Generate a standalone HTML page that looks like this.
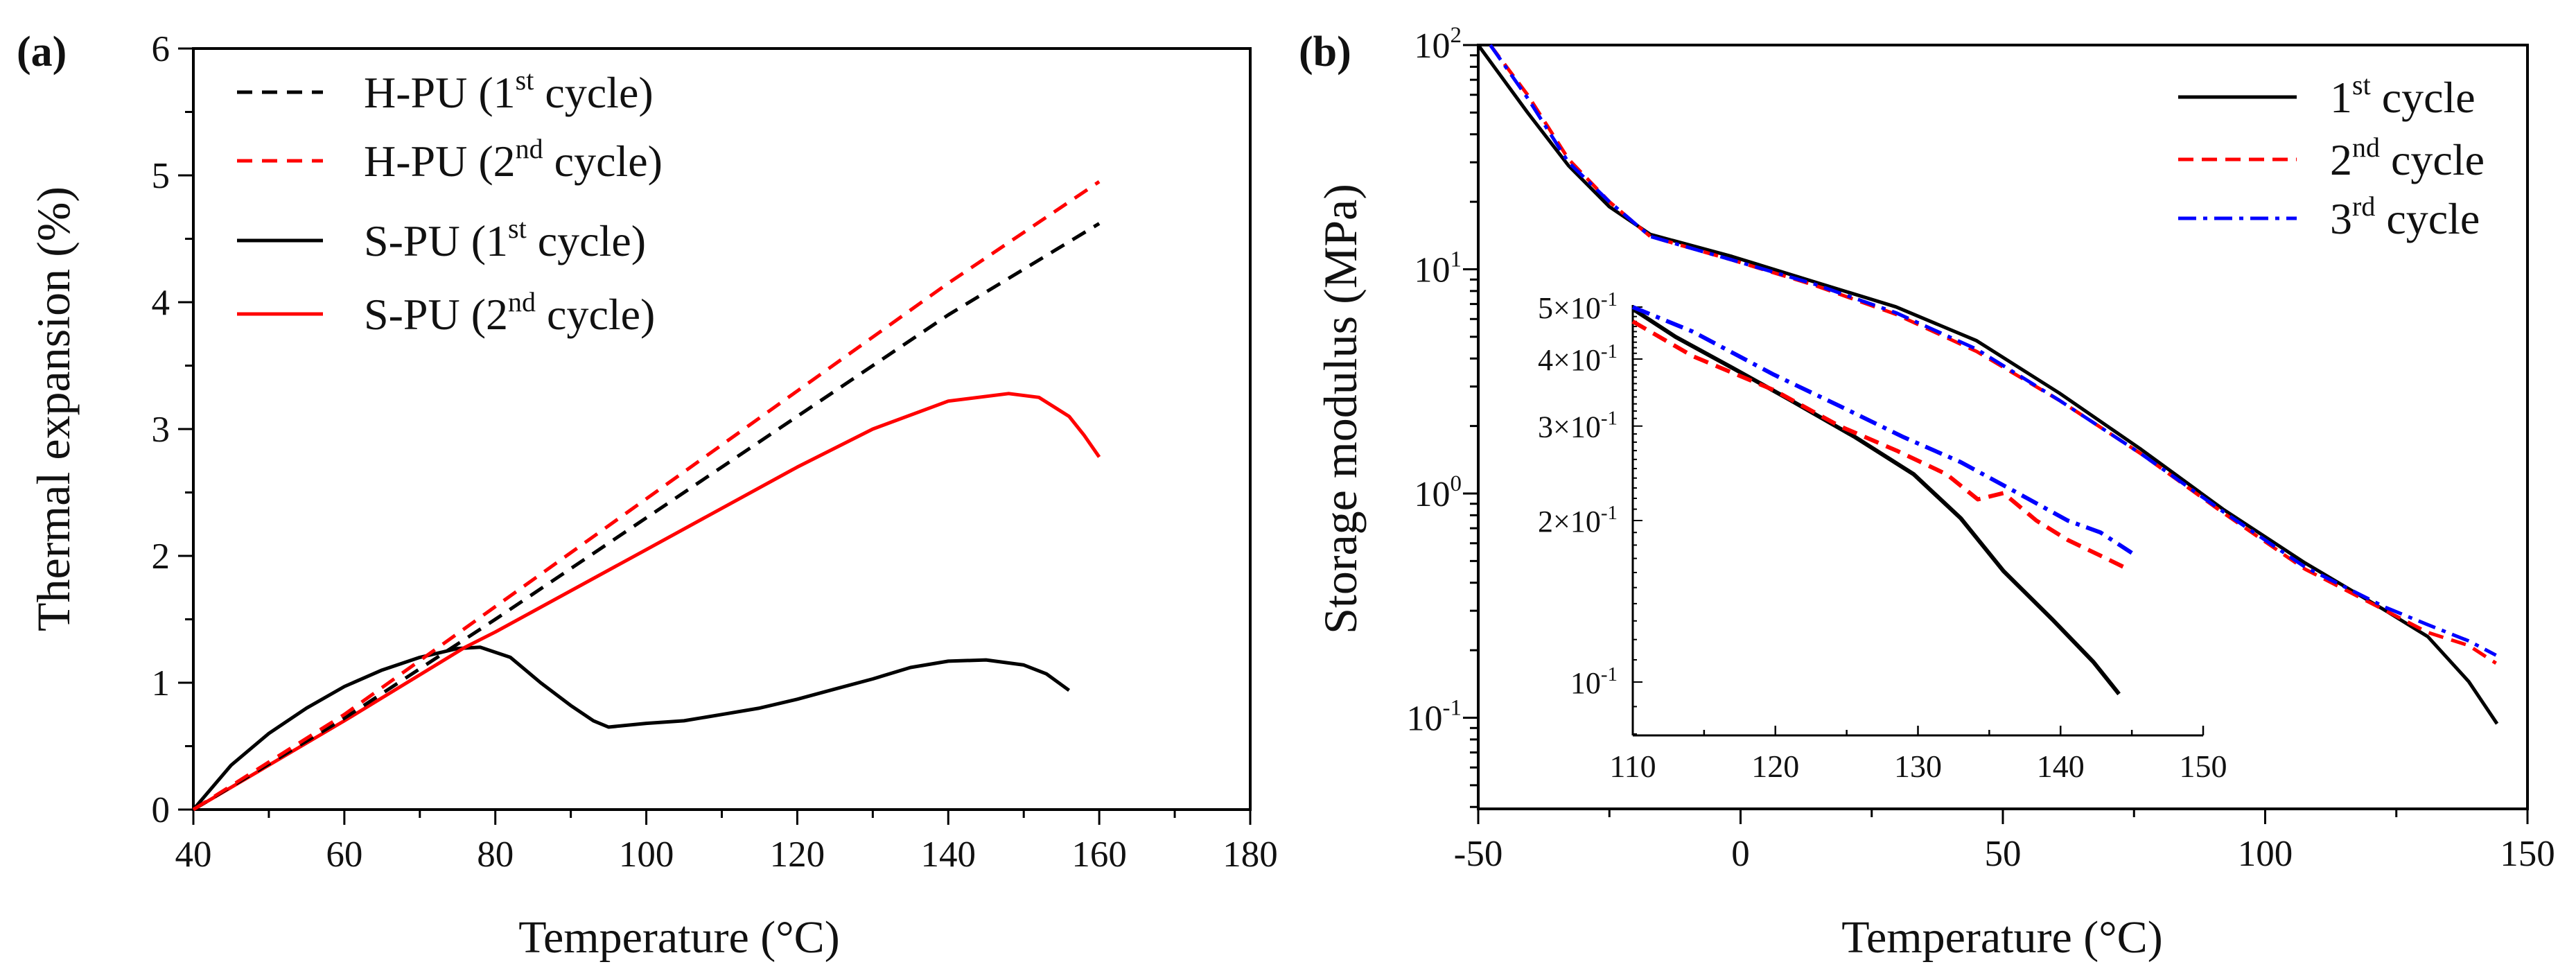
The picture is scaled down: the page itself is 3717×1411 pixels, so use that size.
<!DOCTYPE html>
<html><head><meta charset="utf-8"><style>
html,body{margin:0;padding:0;background:#fff}
svg{display:block}
text{font-family:"Liberation Serif",serif;fill:#111}
</style></head><body>
<svg id="fig" width="3717" height="1411" viewBox="0 0 3717 1411" xmlns="http://www.w3.org/2000/svg">
<g id="pa"></g>
<g id="pb"></g>
</svg>
<script>
// ---------- Panel (a) data ----------
const aXTicks = [40,60,80,100,120,140,160,180];
const aYTicks = [0,1,2,3,4,5,6];
const hpu1T = [40,60,80,100,120,140,160];
const hpu1V = [0,0.72,1.5,2.3,3.1,3.9,4.62];
const hpu2T = [40,60,80,100,120,140,160];
const hpu2V = [0,0.75,1.6,2.45,3.3,4.15,4.95];
const spu1T = [40,45,50,55,60,65,70,75,78,82,86,90,93,95,100,105,110,115,120,125,130,135,140,145,150,153,156];
const spu1V = [0,0.35,0.6,0.8,0.97,1.1,1.2,1.27,1.28,1.2,1.0,0.82,0.7,0.65,0.68,0.7,0.75,0.8,0.87,0.95,1.03,1.12,1.17,1.18,1.14,1.07,0.94];
const spu2T = [40,60,76,80,100,120,130,140,148,152,156,158,160];
const spu2V = [0,0.7,1.28,1.4,2.05,2.7,3.0,3.22,3.28,3.25,3.1,2.95,2.78];
// ---------- Panel (b) data ----------
const bXTicks = [-50,0,50,100,150];
const bYExp = [-1,0,1,2];
const c1T = [-50,-40.6,-32.8,-25,-17.2,-1.6,14,29.6,45,60.8,76.4,92,107.6,123,131,138.8,144.2];
const c1V = [100,50,29,19,14.3,11.4,8.8,6.8,4.8,2.8,1.57,0.85,0.49,0.30,0.23,0.145,0.094];
const c2T = [-47.7,-40.6,-32.8,-25,-17.2,-1.6,14,29.6,45,60.8,76.4,92,107.6,123,131,138.8,144];
const c2V = [100,60,31,20,14,11,8.5,6.3,4.3,2.6,1.5,0.82,0.46,0.30,0.24,0.21,0.175];
const c3T = [-47.7,-40.6,-32.8,-25,-17.2,-1.6,14,29.6,45,60.8,76.4,92,107.6,123,131,138.8,144];
const c3V = [100,58,30,20,14,11,8.6,6.4,4.4,2.6,1.5,0.83,0.47,0.31,0.26,0.22,0.19];
// inset
const iXTicks = [110,120,130,140,150];
const iYTicks = [0.1,0.2,0.3,0.4,0.5];
const iYLabels = ["10","2×10","3×10","4×10","5×10"];
const i1T = [110,113,117,121,125.6,129.7,133,136,139.4,142.3,144.1];
const i1V = [0.496,0.44,0.385,0.336,0.286,0.244,0.202,0.161,0.131,0.109,0.095];
const i2T = [110,114.2,119.9,124.5,128.5,132,134.2,136,138.3,140.5,142.8,144.6];
const i2V = [0.47,0.405,0.35,0.30,0.27,0.244,0.219,0.225,0.2,0.184,0.172,0.163];
const i3T = [110,114.2,119.9,124.5,129,133,137,140.5,142.8,145];
const i3V = [0.5,0.45,0.374,0.327,0.286,0.257,0.225,0.2,0.19,0.174];

const NS="http://www.w3.org/2000/svg";
function mk(parent,tag,attrs,txt){const e=document.createElementNS(NS,tag);for(const k in attrs)e.setAttribute(k,attrs[k]);if(txt!==undefined)e.textContent=txt;parent.appendChild(e);return e;}

// ---- Panel a ----
const pa=document.getElementById('pa');
const aL=279,aR=1804,aT=70,aB=1168;
const ax=v=>aL+(v-40)/(180-40)*(aR-aL);
const ay=v=>aB-(v-0)/6*(aB-aT);
let f=mk(pa,'rect',{x:aL,y:aT,width:aR-aL,height:aB-aT,fill:'none',stroke:'#000','stroke-width':4});


for(let v=40;v<=180;v+=10){const major=v%20===0;const t=mk(pa,'line',{x1:ax(v),x2:ax(v),y1:aB,y2:aB+(major?22:12),stroke:'#000','stroke-width':3});

}
aXTicks.forEach(v=>{const t=mk(pa,'text',{x:ax(v),y:aB+82,'font-size':53,'text-anchor':'middle'},String(v));

});
for(let v=0;v<=6;v+=0.5){const major=v%1===0;const t=mk(pa,'line',{x1:aL-(major?22:12),x2:aL,y1:ay(v),y2:ay(v),stroke:'#000','stroke-width':3});

}
aYTicks.forEach(v=>{const t=mk(pa,'text',{x:aL-34,y:ay(v)+18,'font-size':53,'text-anchor':'end'},String(v));

});
function lineA(T,V,color,dash,name){const d=T.map((t,i)=>(i?'L':'M')+ax(t).toFixed(1)+','+ay(V[i]).toFixed(1)).join('');
const p=mk(pa,'path',{d:d,fill:'none',stroke:color,'stroke-width':5,'stroke-dasharray':dash||'none','stroke-linejoin':'round'});

}
lineA(spu1T,spu1V,'#000','', 'series-spu-1st');
lineA(spu2T,spu2V,'#f00','', 'series-spu-2nd');
lineA(hpu1T,hpu1V,'#000','22 14','series-hpu-1st');
lineA(hpu2T,hpu2V,'#f00','22 14','series-hpu-2nd');
const legA=[["H-PU (1","st"," cycle)",'#000','22 14',133],["H-PU (2","nd"," cycle)",'#f00','22 14',232],["S-PU (1","st"," cycle)",'#000','',347],["S-PU (2","nd"," cycle)",'#f00','',453]];
legA.forEach(l=>{const g=mk(pa,'g',{});


mk(g,'line',{x1:342,x2:466,y1:l[5],y2:l[5],stroke:l[3],'stroke-width':5,'stroke-dasharray':l[4]||'none'});
const t=mk(g,'text',{x:525,y:l[5]+22,'font-size':64});
mk(t,'tspan',{},l[0]);mk(t,'tspan',{'font-size':40,dy:-26},l[1]);mk(t,'tspan',{dy:26},l[2]);});
let tt=mk(pa,'text',{x:24,y:95,'font-size':62,'font-weight':'bold'},'(a)');


tt=mk(pa,'text',{x:980,y:1374,'font-size':66,'text-anchor':'middle'},'Temperature (°C)');


tt=mk(pa,'text',{x:0,y:0,'font-size':68,'text-anchor':'middle',transform:'translate(100,590) rotate(-90)'},'Thermal expansion (%)');



// ---- Panel b ----
const pb=document.getElementById('pb');
const bL=2133,bR=3647,bT=65,bB=1167;
const decade=323.5, y100=65;
const bx=v=>bL+(v+50)/200*(bR-bL);
const by=v=>y100+(2-Math.log10(v))*decade;
f=mk(pb,'rect',{x:bL,y:bT,width:bR-bL,height:bB-bT,fill:'none',stroke:'#000','stroke-width':4});


for(let v=-50;v<=150;v+=25){const major=v%50===0;const t=mk(pb,'line',{x1:bx(v),x2:bx(v),y1:bB,y2:bB+(major?22:12),stroke:'#000','stroke-width':3});

}
bXTicks.forEach(v=>{const t=mk(pb,'text',{x:bx(v),y:bB+82,'font-size':53,'text-anchor':'middle'},String(v));

});
for(let e=-2;e<=1;e++){for(let m=1;m<10;m++){const v=m*Math.pow(10,e);const y=by(v);if(y>bB+1||y<bT-1)continue;
const t=mk(pb,'line',{x1:bL-(m===1?22:12),x2:bL,y1:y,y2:y,stroke:'#000','stroke-width':3});

}}
mk(pb,'line',{x1:bL-22,x2:bL,y1:by(100),y2:by(100),stroke:'#000','stroke-width':3});
bYExp.forEach(e=>{const t=mk(pb,'text',{x:bL-24,y:by(Math.pow(10,e))+18,'font-size':52,'text-anchor':'end'});


mk(t,'tspan',{},'10');mk(t,'tspan',{'font-size':33,dy:-22},String(e));});
function lineB(T,V,X,Y,color,dash,name,w){const d=T.map((t,i)=>(i?'L':'M')+X(t).toFixed(1)+','+Y(V[i]).toFixed(1)).join('');
const p=mk(pb,'path',{d:d,fill:'none',stroke:color,'stroke-width':w||5,'stroke-dasharray':dash||'none','stroke-linejoin':'round'});

}
lineB(c1T,c1V,bx,by,'#000','','series-1st-cycle');
lineB(c2T,c2V,bx,by,'#f00','22 12','series-2nd-cycle');
lineB(c3T,c3V,bx,by,'#00f','26 10 6 10','series-3rd-cycle');
// inset
const iL=2356,iR=3179,iT=440,iB=1061;
const ix=v=>iL+(v-110)/40*(iR-iL);
const idec=774;
const iy=v=>984-(Math.log10(v)+1)*idec;
let ig=mk(pb,'g',{});


mk(ig,'line',{x1:iL,x2:iL,y1:iT,y2:iB,stroke:'#000','stroke-width':3});
mk(ig,'line',{x1:iL,x2:iR,y1:iB,y2:iB,stroke:'#000','stroke-width':3});
for(let v=110;v<=150;v+=5){const major=v%10===0;mk(ig,'line',{x1:ix(v),x2:ix(v),y1:iB,y2:iB-(major?14:8),stroke:'#000','stroke-width':2.5});}
iXTicks.forEach(v=>{const t=mk(ig,'text',{x:ix(v),y:iB+60,'font-size':46,'text-anchor':'middle'},String(v));

});
for(let v=0.08;v<=0.5001;v+=0.01){const y=iy(v);if(y<iT-1)continue;const major=Math.abs(v*10-Math.round(v*10))<1e-6;
mk(ig,'line',{x1:iL,x2:iL+(major?14:6),y1:y,y2:y,stroke:'#000','stroke-width':2});}
iYTicks.forEach((v,i)=>{const t=mk(ig,'text',{x:iL-22,y:iy(v)+16,'font-size':44,'text-anchor':'end'});


mk(t,'tspan',{},iYLabels[i]);mk(t,'tspan',{'font-size':29,dy:-18},'-1');});
lineB(i1T,i1V,ix,iy,'#000','','inset-series-1st',6);
lineB(i2T,i2V,ix,iy,'#f00','22 12','inset-series-2nd',6);
lineB(i3T,i3V,ix,iy,'#00f','26 10 6 10','inset-series-3rd',6);
// legend b
const legB=[["1","st"," cycle",'#000','',140],["2","nd"," cycle",'#f00','22 12',230],["3","rd"," cycle",'#00f','26 10 6 10',315]];
legB.forEach(l=>{const g=mk(pb,'g',{});


mk(g,'line',{x1:3143,x2:3314,y1:l[5],y2:l[5],stroke:l[3],'stroke-width':5,'stroke-dasharray':l[4]||'none'});
const t=mk(g,'text',{x:3362,y:l[5]+22,'font-size':64});
mk(t,'tspan',{},l[0]);mk(t,'tspan',{'font-size':40,dy:-26},l[1]);mk(t,'tspan',{dy:26},l[2]);});
tt=mk(pb,'text',{x:1874,y:95,'font-size':62,'font-weight':'bold'},'(b)');


tt=mk(pb,'text',{x:2889,y:1374,'font-size':66,'text-anchor':'middle'},'Temperature (°C)');


tt=mk(pb,'text',{x:0,y:0,'font-size':68,'text-anchor':'middle',transform:'translate(1957,590) rotate(-90)'},'Storage modulus (MPa)');


</script>
</body></html>
